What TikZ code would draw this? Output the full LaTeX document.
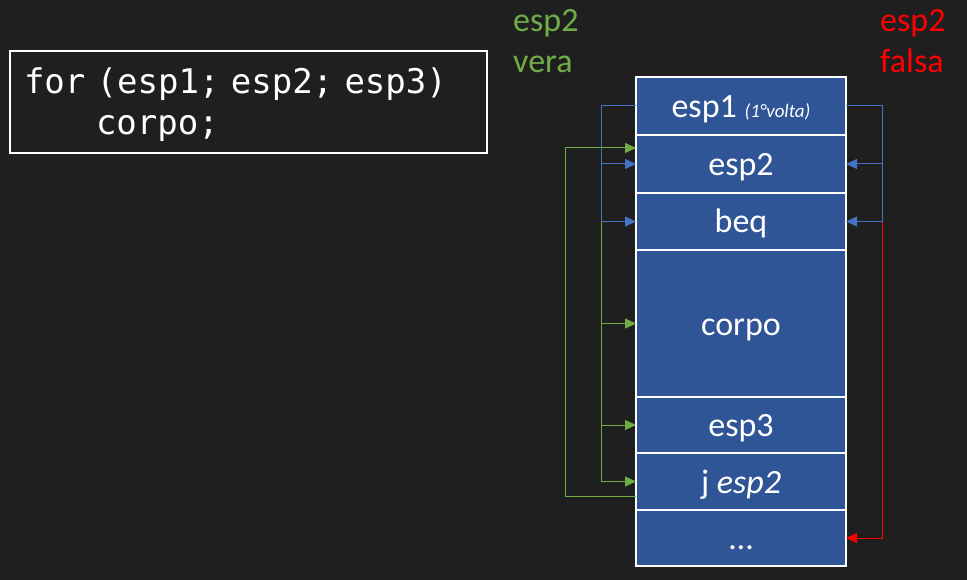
\documentclass[tikz,border=0pt]{standalone}
\usepackage{fontspec}
\setmainfont{Carlito}
\newfontfamily\codefont{DejaVu Sans Mono}
\usetikzlibrary{arrows.meta, positioning}

\definecolor{bgcol}{RGB}{31,31,31}
\definecolor{blkfill}{RGB}{47,85,151}
\definecolor{lnblue}{RGB}{68,114,196}
\definecolor{lngreen}{RGB}{112,173,71}
\definecolor{lnred}{RGB}{255,0,0}

\begin{document}
\begin{tikzpicture}[
    x=1pt, y=-1pt,
    blk/.style={rectangle, draw=white, fill=blkfill, line width=2.5pt, outer sep=0pt, minimum width=210pt, text height=25pt, text depth=2pt, text=white, font=\fontsize{34}{40}\selectfont},
    lbl/.style={anchor=base west, inner sep=0pt, font=\fontsize{34}{40}\selectfont},
    codebox/.style={rectangle, draw=white, line width=2pt, outer sep=0pt, minimum width=477pt, minimum height=102pt, text width=449pt, inner xsep=14pt, align=left, text=white, font=\codefont\fontsize{34}{41}\selectfont},
    link/.style={line width=1pt},
    tip/.style={-{Triangle[length=11pt, width=10pt]}}
]

% Background
\fill[bgcol] (0,0) rectangle (967,580);

% Code
\node[codebox, anchor=north west] (code) at (10,51) {\rule{0pt}{32pt}for (esp1; esp2; esp3)\\\hspace*{72pt}corpo;};

% Labels
\node[lbl, text=lngreen] (vtop) at (513,32) {esp2};
\node[lbl, text=lngreen] (vera) at (513,73) {vera};
\node[lbl, text=lnred] (ftop) at (880,32) {esp2};
\node[lbl, text=lnred] (falsa) at (880,73) {falsa};

% Blocks
\node[blk, minimum height=58pt, anchor=north] (esp1) at (741,77) {esp1 {\fontsize{19}{20}\selectfont\itshape (1°volta)}};
\node[blk, minimum height=58pt, below=0pt of esp1] (esp2) {esp2};
\node[blk, minimum height=57pt, below=0pt of esp2] (beq) {beq};
\node[blk, minimum height=147pt, below=0pt of beq] (corpo) {corpo};
\node[blk, minimum height=56pt, below=0pt of corpo] (esp3) {esp3};
\node[blk, minimum height=57pt, below=0pt of esp3] (jmp) {j \textit{esp2}};
\node[blk, minimum height=56pt, below=0pt of jmp] (dots) {\ldots};

% Buses
\coordinate (gbus) at (565,0);
\coordinate (lbus) at (601,0);
\coordinate (rbus) at (882,0);
\coordinate (gin) at ([yshift=16pt]esp2.west);
\coordinate (gout) at ([yshift=-15pt]jmp.west);

% Left side
\draw[link, lngreen, tip] (gout) -| (gbus |- gin) -- (gin);
\draw[link, lngreen, tip] (lbus |- beq.west) |- (jmp.west);
\draw[link, lngreen, tip] (lbus |- corpo.west) -- (corpo.west);
\draw[link, lngreen, tip] (lbus |- esp3.west) -- (esp3.west);
\draw[link, lnblue, tip] (esp1.west) -- (lbus |- esp1.west) |- (beq.west);
\draw[link, lnblue, tip] (lbus |- esp2.west) -- (esp2.west);

% Right side
\draw[link, lnred, tip] (beq.east) -- (rbus |- beq.east) |- (dots.east);
\draw[link, lnblue, tip] (esp1.east) -- (rbus |- esp1.east) |- (beq.east);
\draw[link, lnblue, tip] (rbus |- esp2.east) -- (esp2.east);

\end{tikzpicture}
\end{document}
